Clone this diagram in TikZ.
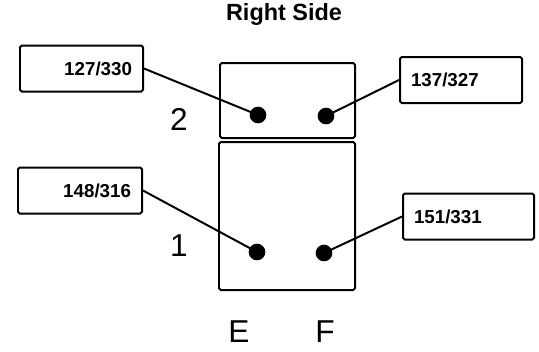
\documentclass[tikz,border=0pt]{standalone}
\usepackage{fontspec}
\setmainfont{Liberation Sans}
\usepackage{tikz}
\usetikzlibrary{positioning}

\begin{document}
\begin{tikzpicture}[x=0.03cm,y=-0.03cm,line join=round,
  numbox/.style={draw,line width=1.7pt,rounded corners=1.5pt,minimum height=1.38cm,inner xsep=0.33cm,font=\fontsize{16}{18}\selectfont\bfseries},
  pin/.style={circle,fill,inner sep=0pt,minimum size=0.5cm},
  lbl/.style={font=\fontsize{27}{30}\selectfont}]
  \useasboundingbox (0,0) rectangle (539,351);
  \node[font=\fontsize{20}{22}\selectfont\bfseries] (title) at (284,14) {Right Side};
  \draw[line width=1.7pt,rounded corners=1.5pt] (220,63) rectangle (355,138); \draw[line width=1.7pt,rounded corners=1.5pt] (219,142) rectangle (355,290);
  \node[pin] (p2E) at (258,115) {}; \node[pin] (p2F) at (326,116) {};
  \node[pin] (p1E) at (257,252) {}; \node[pin] (p1F) at (324,253) {};
  \node[numbox,text width=3.03cm,align=right] (b2E) at (81.5,68.5) {127/330};
  \node[numbox,text width=3.0cm,align=left] (b2F) at (461,80) {137/327};
  \node[numbox,text width=3.06cm,align=right] (b1E) at (80,190.5) {148/316};
  \node[numbox,text width=3.27cm,align=left] (b1F) at (468.5,216.5) {151/331};
  \draw[line width=1.7pt] (b2E.east)--(p2E.center); \draw[line width=1.7pt] (b2F.west)--(p2F.center);
  \draw[line width=1.7pt] (b1E.east)--(p1E.center); \draw[line width=1.7pt] (b1F.west)--(p1F.center);
  \node[lbl] (row2) at (179,119) {2}; \node[lbl] (row1) at (179,246) {1};
  \node[lbl] (colE) at (239,332) {E}; \node[lbl] (colF) at (325,332) {F};
\end{tikzpicture}
\end{document}
